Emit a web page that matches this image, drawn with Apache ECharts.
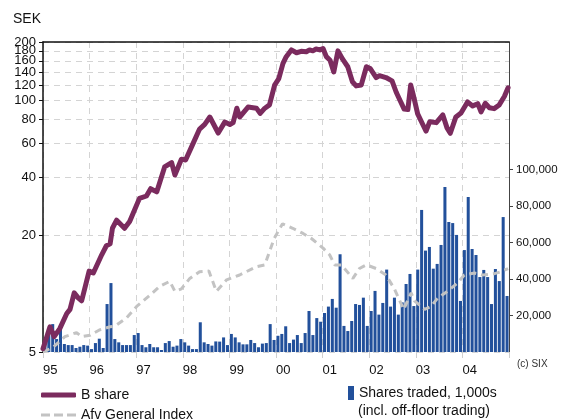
<!DOCTYPE html>
<html>
<head>
<meta charset="utf-8">
<script src="https://cdn.jsdelivr.net/npm/echarts@6/dist/echarts.min.js"></script>
<style>
  html, body { margin: 0; padding: 0; background: #fff; }
  #chart { width: 565px; height: 419px; }
</style>
</head>
<body>
<div id="chart"></div>
<script>
// Year labels along the bottom axis (1995 .. 2004)
const yearLabels = ['95', '96', '97', '98', '99', '00', '01', '02', '03', '04'];

// Tick values on the two value axes (180 sits on its own overlay axis so the
// crowded top pair 180/200 are both kept)
const priceTicks = [5, 20, 40, 60, 80, 100, 120, 140, 160, 200];
const priceTicksTop = [180];
const volumeTicks = [20000, 40000, 60000, 80000, 100000];

// Monthly shares traded (thousands), Jan 1995 .. Dec 2004
const volume1995 = [5000, 12000, 15300, 7100, 12600, 4400, 3800, 3800, 2200, 2900, 3800, 3500];
const volume1996 = [1600, 4900, 7300, 2200, 26300, 37800, 7100, 5300, 3800, 3800, 3800, 9300];
const volume1997 = [10400, 3800, 2600, 4400, 2600, 2600, 1100, 4900, 6000, 2900, 3500, 7100];
const volume1998 = [5300, 3500, 1600, 1600, 16300, 5300, 4400, 3500, 5800, 5700, 8000, 3800];
const volume1999 = [9900, 8000, 5300, 4200, 4200, 6600, 4900, 2600, 4600, 4900, 15300, 6600];
const volume2000 = [8900, 9900, 14100, 4900, 6800, 9300, 4900, 10400, 22500, 9300, 18600, 16600];
const volume2001 = [21400, 24900, 29100, 24300, 53600, 14300, 11500, 17000, 26300, 25800, 29800, 14300];
const volume2002 = [22500, 33500, 20500, 26900, 45200, 24900, 29800, 20500, 27200, 37300, 42800, 25200];
const volume2003 = [45200, 77900, 55600, 57600, 45700, 48300, 58700, 90500, 71300, 70700, 64200, 28000];
const volume2004 = [55900, 85000, 56500, 53200, 41100, 45000, 41100, 26300, 45500, 38900, 74000, 30700];

// B share price (SEK), sampled in decimal years
const shareTime = [
  1995.00, 1995.15, 1995.24, 1995.36, 1995.51, 1995.58, 1995.67, 1995.76, 1995.83, 1995.99,
  1996.08, 1996.26, 1996.36, 1996.44, 1996.49, 1996.58, 1996.75, 1996.86,
  1997.07, 1997.22, 1997.31, 1997.44, 1997.61, 1997.76, 1997.83, 1997.97,
  1998.06, 1998.19, 1998.36, 1998.47, 1998.58, 1998.76, 1998.90,
  1999.01, 1999.08, 1999.16, 1999.22, 1999.40, 1999.58, 1999.66, 1999.76, 1999.86, 1999.97,
  2000.06, 2000.15, 2000.22, 2000.33, 2000.44, 2000.54, 2000.65, 2000.72, 2000.79, 2000.86, 2000.94,
  2001.01, 2001.08, 2001.16, 2001.24, 2001.33, 2001.43, 2001.54, 2001.64, 2001.72, 2001.83, 2001.94,
  2002.02, 2002.15, 2002.22, 2002.36, 2002.49, 2002.58, 2002.66, 2002.75, 2002.83, 2002.89, 2002.94,
  2003.04, 2003.15, 2003.22, 2003.30, 2003.44, 2003.58, 2003.67, 2003.74, 2003.86, 2003.97,
  2004.11, 2004.22, 2004.33, 2004.40, 2004.49, 2004.58, 2004.68, 2004.79, 2004.90, 2004.98
];
const sharePrice = [
  5.2, 6.75, 6.0, 6.6, 7.9, 8.3, 10.1, 9.5, 9.2, 13.1,
  12.8, 15.9, 17.7, 18.1, 21.8, 24.0, 21.8, 23.6,
  31.1, 32.0, 34.9, 33.6, 45.2, 47.6, 41.1, 49.6,
  49.1, 57.6, 71.0, 75.0, 81.9, 67.7, 77.1,
  74.9, 76.6, 91.0, 81.9, 92.2, 91.0, 85.5, 91.0, 94.6, 119.8,
  129.4, 155, 168, 182, 176, 179, 178, 182, 180, 184, 182,
  185, 168, 161, 140, 180, 163, 149, 124.6, 118.6, 120, 149,
  146, 131, 134, 131, 126, 110, 100, 90, 89.5, 120, 108,
  85, 74.9, 69.3, 77.5, 76.6, 84, 72, 67.5, 82, 86,
  98, 93.5, 96, 87, 96.4, 91.5, 90.5, 94.6, 104.5, 116
];

// Affärsvärlden General Index, rebased to the share price at the start
const indexTime = [
  1995.00, 1995.22, 1995.47, 1995.72, 1995.83, 1996.01, 1996.21, 1996.44, 1996.54, 1996.79,
  1997.01, 1997.29, 1997.50, 1997.72, 1997.83, 1997.97, 1998.15, 1998.36, 1998.56, 1998.72,
  1998.94, 1999.22, 1999.58, 1999.76, 1999.96, 2000.14, 2000.36, 2000.58, 2000.76, 2001.01,
  2001.15, 2001.26, 2001.40, 2001.65, 2001.79, 2001.94, 2002.15, 2002.36, 2002.54, 2002.74,
  2002.90, 2002.97, 2003.19, 2003.33, 2003.47, 2003.68, 2003.90, 2004.04, 2004.26, 2004.43,
  2004.69, 2004.83, 2004.98
];
const indexValue = [
  5.0, 5.3, 6.0, 6.3, 6.0, 6.1, 6.5, 6.75, 6.8, 7.5,
  8.6, 9.8, 10.9, 11.6, 10.3, 10.6, 12.0, 13.0, 13.1, 10.3,
  11.8, 12.5, 13.8, 14.1, 19.3, 23.0, 21.8, 20.5, 19.3, 17.2,
  15.9, 14.1, 14.1, 12.0, 13.5, 14.1, 13.5, 12.5, 10.6, 8.3,
  10.1, 9.2, 8.3, 8.6, 9.5, 10.3, 11.4, 12.5, 12.8, 12.5,
  12.7, 13.0, 13.5
];

const volume = [].concat(volume1995, volume1996, volume1997, volume1998, volume1999,
                         volume2000, volume2001, volume2002, volume2003, volume2004);
const months = [];
for (let y = 1995; y <= 2004; y++) {
  for (let m = 1; m <= 12; m++) months.push(y + '-' + String(m).padStart(2, '0'));
}
const pair = (xs, ys) => xs.map((x, i) => [x, ys[i]]);

const FONT = '"Liberation Sans", Arial, Helvetica, sans-serif';
const GRID_LINE = { color: '#d4d4d4', width: 1, type: [6, 5] };
const PURPLE = '#7b2b5e';
const BLUE = '#22509b';
const GREY = '#c3c3c3';
const LEGEND_TEXT = { fontFamily: FONT, fontSize: 14, color: '#111' };
const PRICE_LABEL = { fontSize: 13, margin: 7, color: '#111', fontFamily: FONT };
// legend glyph for the dashed index line: three short dashes
const DASH_ICON = 'path://M0,0h9v3h-9z M13,0h9v3h-9z M26,0h9v3h-9z';

const chart = echarts.init(document.getElementById('chart'), null, { renderer: 'canvas' });
chart.setOption({
  animation: false,
  backgroundColor: '#fff',
  textStyle: { fontFamily: FONT, color: '#111' },
  grid: { left: 43, right: 56, top: 42, bottom: 67 },
  legend: [
    {
      left: 36, top: 383, itemWidth: 35, itemHeight: 5,
      data: [{ name: 'B share', icon: 'roundRect' }],
      textStyle: LEGEND_TEXT
    },
    {
      left: 36, top: 403, itemWidth: 35, itemHeight: 3,
      data: [{ name: 'Afv General Index', icon: DASH_ICON }],
      textStyle: LEGEND_TEXT
    },
    {
      left: 343, top: 381, itemWidth: 6, itemHeight: 14,
      data: [{ name: 'Shares traded, 1,000s', icon: 'rect' }],
      textStyle: LEGEND_TEXT
    }
  ],
  graphic: [
    { type: 'text', left: 358, top: 404, style: { text: '(incl. off-floor trading)', font: '14px ' + FONT, fill: '#111' } },
    { type: 'text', left: 517, top: 359, style: { text: '(c) SIX', font: '10px ' + FONT, fill: '#333' } }
  ],
  xAxis: [
    {
      type: 'category', data: months, position: 'top', boundaryGap: true,
      axisLine: { show: true, onZero: false, lineStyle: { color: '#111', width: 1.5 } },
      axisTick: { show: false }, axisLabel: { show: false }, splitLine: { show: false }
    },
    {
      type: 'value', min: 1995, max: 2005, interval: 1, position: 'bottom',
      axisLine: { show: false },
      axisTick: { show: true, length: 6, lineStyle: { color: '#cfcfcf' } },
      axisLabel: {
        formatter: v => yearLabels[v - 1995] || '',
        align: 'left', margin: 12, fontSize: 13, color: '#111', fontFamily: FONT
      },
      splitLine: { show: true, lineStyle: GRID_LINE }
    }
  ],
  yAxis: [
    {
      type: 'log', logBase: 10, min: 5, max: 200, position: 'left',
      name: 'SEK', nameLocation: 'end', nameGap: 16,
      nameTextStyle: { align: 'right', fontSize: 14, color: '#111', fontFamily: FONT, padding: [0, 2, 0, 0] },
      axisLine: { show: true, lineStyle: { color: '#111', width: 1.5 } },
      axisTick: { show: true, length: 4, customValues: priceTicks, lineStyle: { color: '#111' } },
      axisLabel: Object.assign({ customValues: priceTicks, showMaxLabel: true, showMinLabel: true }, PRICE_LABEL),
      splitLine: { show: true, lineStyle: GRID_LINE }
    },
    {
      type: 'value', min: 0, max: 170000, position: 'right',
      axisLine: { show: true, lineStyle: { color: '#444', width: 1 } },
      axisTick: { show: true, length: 4, customValues: volumeTicks, lineStyle: { color: '#444' } },
      axisLabel: {
        customValues: volumeTicks, fontSize: 11.5, margin: 7, color: '#111', fontFamily: FONT,
        formatter: v => v.toLocaleString('en-US')
      },
      splitLine: { show: false }
    },
    {
      type: 'log', logBase: 10, min: 5, max: 200, position: 'left', offset: 0,
      axisLine: { show: false },
      axisTick: { show: true, length: 4, customValues: priceTicksTop, lineStyle: { color: '#111' } },
      axisLabel: Object.assign({ customValues: priceTicksTop, showMaxLabel: true, showMinLabel: true }, PRICE_LABEL),
      splitLine: { show: true, lineStyle: GRID_LINE }
    }
  ],
  series: [
    {
      name: 'Shares traded, 1,000s', type: 'bar', xAxisIndex: 0, yAxisIndex: 1,
      data: volume, barCategoryGap: '22%', itemStyle: { color: BLUE }, z: 2
    },
    {
      name: 'Afv General Index', type: 'line', xAxisIndex: 1, yAxisIndex: 0,
      data: pair(indexTime, indexValue), showSymbol: false, symbol: 'none',
      lineStyle: { color: GREY, width: 3, type: [7, 5] }, itemStyle: { color: GREY }, z: 3
    },
    {
      name: 'B share', type: 'line', xAxisIndex: 1, yAxisIndex: 0,
      data: pair(shareTime, sharePrice), showSymbol: false, symbol: 'none',
      lineStyle: { color: PURPLE, width: 5, cap: 'round', join: 'round' }, itemStyle: { color: PURPLE }, z: 4
    }
  ]
});
</script>
</body>
</html>
